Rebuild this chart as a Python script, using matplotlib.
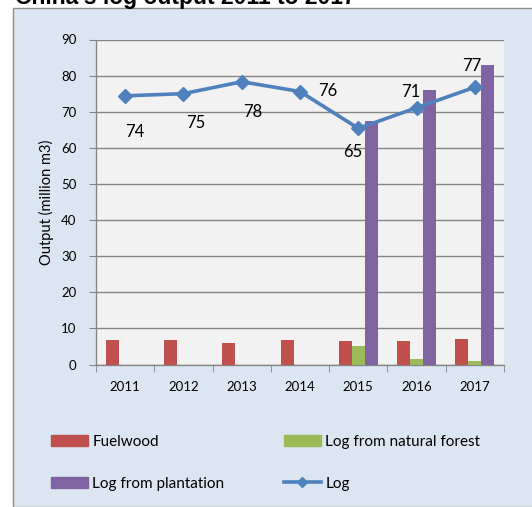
import matplotlib
matplotlib.use("Agg")
import matplotlib.pyplot as plt
import numpy as np
from matplotlib.patches import Rectangle, Patch
from matplotlib.lines import Line2D

years = ["2011", "2012", "2013", "2014", "2015", "2016", "2017"]
fuelwood = [6.8, 6.7, 5.9, 6.7, 6.5, 6.4, 7.1]
natural = [0, 0, 0, 0, 5.1, 1.5, 1.0]
plantation = [0, 0, 0, 0, 67.3, 76.1, 82.9]
log_total = [74.4, 75.0, 78.3, 75.6, 65.4, 71.1, 76.8]
yticks = [0, 10, 20, 30, 40, 50, 60, 70, 80, 90]

C_FUEL = "#C0504D"
C_NAT = "#9BBB59"
C_PLANT = "#8064A2"
C_LOG = "#4F81BD"
FONT = "Lato"

W, H = 532, 507
fig = plt.figure(figsize=(W / 100, H / 100), dpi=100)
fig.patch.set_facecolor("white")

# chart panel
panel = Rectangle((13 / W, 0), 1.0, 1 - 8 / H, transform=fig.transFigure,
                  facecolor="#DCE6F2", edgecolor="#8C8C8C", linewidth=1.0, zorder=-5)
fig.patches.append(panel)

fig.text(15 / W, 1 - 4 / H, "China's log output 2011 to 2017", fontsize=16.5,
         fontweight="bold", family="Liberation Sans", va="baseline", ha="left")

ax = fig.add_axes([96 / W, 1 - 364.5 / H, (504 - 96) / W, (364.5 - 39.5) / H])
ax.set_facecolor("#F2F2F2")

x = np.arange(len(years))
bw = 0.223
ax.bar(x - bw, fuelwood, bw, color=C_FUEL, zorder=3)
ax.bar(x, natural, bw, color=C_NAT, zorder=3)
ax.bar(x + bw, plantation, bw, color=C_PLANT, zorder=3)
ax.plot(x, log_total, color=C_LOG, lw=2.6, marker="D", markersize=7.5, zorder=4)

offsets = [(7, -26), (9, -21), (8, -22), (20, 0), (-4, -17), (-4, 11), (-2, 15)]
for xi, v, (dx, dy) in zip(x, log_total, offsets):
    ax.annotate(f"{v:.0f}", (xi, v), xytext=(dx, dy), textcoords="offset points",
                ha="center", va="center", fontsize=12, family=FONT, color="black", zorder=5)

ax.set_xlim(-0.5, len(years) - 0.5)
ax.set_ylim(0, 90)
ax.set_yticks(yticks)
ax.set_yticklabels([str(t) for t in yticks], family=FONT, fontsize=9.5)
ax.set_xticks(x)
ax.set_xticklabels(years, family=FONT, fontsize=9.5)
ax.set_xticks(np.arange(-0.5, len(years)), minor=True)
ax.tick_params(axis="x", which="major", length=0, pad=12)
ax.tick_params(axis="x", which="minor", length=5, color="#868686", direction="out")
ax.tick_params(axis="y", length=5, color="#868686", direction="out", pad=9)
ax.grid(axis="y", color="#868686", lw=1.0, zorder=1)
for s in ["top", "right"]:
    ax.spines[s].set_visible(False)
for s in ["left", "bottom"]:
    ax.spines[s].set_color("#868686")
    ax.spines[s].set_linewidth(1.0)
ax.set_ylabel("Output (million m3)", family=FONT, fontsize=10.5, labelpad=5)

handles = [Patch(color=C_FUEL), Patch(color=C_PLANT), Patch(color=C_NAT),
           Line2D([], [], color=C_LOG, lw=2.6, marker="D", markersize=5)]
labels = ["Fuelwood", "Log from plantation", "Log from natural forest", "Log"]
fig.legend(handles, labels, ncol=2, loc="upper left", bbox_to_anchor=(45 / W, 1 - 429 / H),
           frameon=False, prop={"family": FONT, "size": 11}, handlelength=2.4,
           handletextpad=0.3, columnspacing=3.9, labelspacing=1.8, borderaxespad=0)

fig.savefig("out.png", dpi=100)
